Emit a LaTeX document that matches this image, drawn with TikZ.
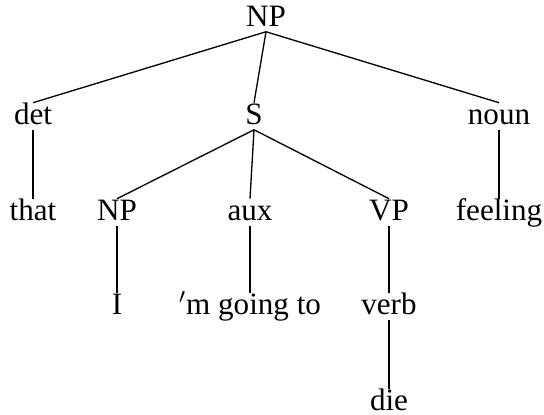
\documentclass[tikz,border=0pt]{standalone}
\usepackage{fontspec}
\setmainfont{Liberation Serif}
\usepackage{tikz}
\tikzset{
  tnode/.style={anchor=base, inner xsep=2pt, inner ysep=0pt,
    text height=0.87em, text depth=0.22em,
    font=\fontsize{13}{15.5}\selectfont},
  branch/.style={line width=0.55pt, color=black}
}

\begin{document}
\begin{tikzpicture}[x=0.418pt, y=-0.418pt]
  \useasboundingbox (0,0) rectangle (544,414);

  % Root
  \node[tnode] (np) at (266,26) {NP};

  % Determiner, clause, head noun
  \node[tnode] (det) at (33,124) {det};
  \node[tnode] (s) at (254,124) {S};
  \node[tnode] (noun) at (499,124) {noun};

  % Words and clause constituents
  \node[tnode] (that) at (33,220) {that};
  \node[tnode] (subj) at (117,220) {NP};
  \node[tnode] (aux) at (250,220) {aux};
  \node[tnode] (vp) at (389,220) {VP};
  \node[tnode] (feeling) at (499,220) {feeling};

  % Lower words
  \node[tnode] (i) at (117,314) {I};
  \node[tnode] (going) at (250,314) {${}'$m going to};
  \node[tnode] (verb) at (389,314) {verb};
  \node[tnode] (die) at (389,410) {die};

  % Branches
  \draw[branch] (np.south) -- (det.north);
  \draw[branch] (np.south) -- (s.north);
  \draw[branch] (np.south) -- (noun.north);
  \draw[branch] (det.south) -- (that.north);
  \draw[branch] (noun.south) -- (feeling.north);
  \draw[branch] (s.south) -- (subj.north);
  \draw[branch] (s.south) -- (aux.north);
  \draw[branch] (s.south) -- (vp.north);
  \draw[branch] (subj.south) -- (i.north);
  \draw[branch] (aux.south) -- (going.north);
  \draw[branch] (vp.south) -- (verb.north);
  \draw[branch] (verb.south) -- (die.north);
\end{tikzpicture}
\end{document}
